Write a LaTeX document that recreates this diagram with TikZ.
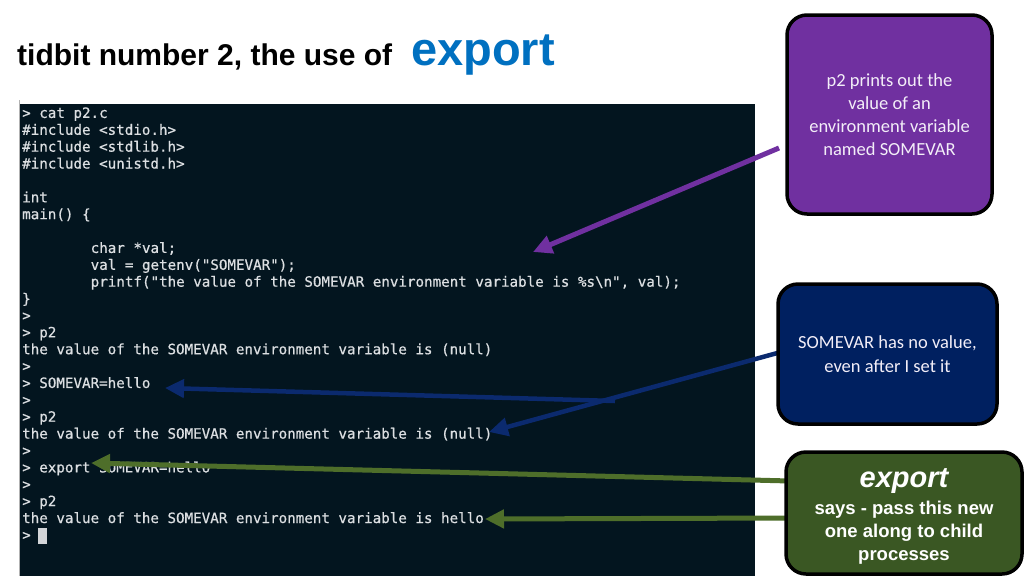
\documentclass[tikz,border=0pt]{standalone}
\usepackage{fontspec}
\setmainfont{Carlito}
\newfontfamily\monof[FakeBold=0.6]{DejaVu Sans Mono}
\newfontfamily\arialf{Liberation Sans}
\usetikzlibrary{arrows.meta}
\definecolor{termbg}{HTML}{03151F}
\definecolor{termtxt}{HTML}{DCDFE2}
\definecolor{ppl}{HTML}{7030A0}
\definecolor{nvy}{HTML}{002060}
\definecolor{nvyarr}{HTML}{0B2A6E}
\definecolor{grnbox}{HTML}{3A5723}
\definecolor{grnarr}{HTML}{4E6E2A}
\definecolor{ttlblue}{HTML}{0070C0}
\definecolor{boxtxt}{HTML}{F3EEF8}
\begin{document}
\begin{tikzpicture}[x=1pt,y=-1pt,
  term/.style={anchor=mid west, inner sep=0pt, text=termtxt, font=\monof\fontsize{14.2}{17}\selectfont},
  callout/.style={draw=black, line width=3.5pt, rounded corners=20pt, inner sep=4pt, align=center, text=boxtxt},
  arr/.style={line width=4.5pt, -{Triangle[length=19pt,width=18pt]}}
]
\useasboundingbox (0,0) rectangle (1024,576);
\fill[white] (0,0) rectangle (1024,576);

% title
\node[anchor=base west, inner sep=0pt, font=\arialf\bfseries\fontsize{30}{34}\selectfont] (title) at (17,65) {tidbit number 2, the use of};
\node[anchor=base west, inner sep=0pt, text=ttlblue, font=\arialf\bfseries\fontsize{47}{50}\selectfont] (titlex) at (411,65) {export};

% terminal
\fill[termbg] (20,104) rectangle (755,576);
\draw[gray!60, line width=1pt] (19.5,100) -- (19.5,576);
\begin{scope}[yshift=-2.5pt]
\node[term] (t0) at (22,113) {> cat p2.c};
\node[term] (t1) at (22,129.88) {\#include <stdio.h>};
\node[term] (t2) at (22,146.76) {\#include <stdlib.h>};
\node[term] (t3) at (22,163.64) {\#include <unistd.h>};
\node[term] (t5) at (22,197.4) {int};
\node[term] (t6) at (22,214.28) {main() \{};
\node[term] (t8) at (90.5,248.04) {char *val;};
\node[term] (t9) at (90.5,264.92) {val = getenv("SOMEVAR");};
\node[term] (t10) at (90.5,281.8) {printf("the value of the SOMEVAR environment variable is \%s\textbackslash n", val);};
\node[term] (t11) at (22,298.68) {\}};
\node[term] (t12) at (22,315.56) {>};
\node[term] (t13) at (22,332.44) {> p2};
\node[term] (t14) at (22,349.32) {the value of the SOMEVAR environment variable is (null)};
\node[term] (t15) at (22,366.2) {>};
\node[term] (t16) at (22,383.08) {> SOMEVAR=hello};
\node[term] (t17) at (22,399.96) {>};
\node[term] (t18) at (22,416.84) {> p2};
\node[term] (t19) at (22,433.72) {the value of the SOMEVAR environment variable is (null)};
\node[term] (t20) at (22,450.6) {>};
\node[term] (t21) at (22,467.48) {> export SOMEVAR=hello};
\node[term] (t22) at (22,484.36) {>};
\node[term] (t23) at (22,501.24) {> p2};
\node[term] (t24) at (22,518.12) {the value of the SOMEVAR environment variable is hello};
\node[term] (t25) at (22,535) {>};
\end{scope}
\fill[termtxt!90!gray] (38,528) rectangle (46.5,544);

% arrow end points
\coordinate (pS) at (779,148);
\coordinate (pE) at (533,252);
\coordinate (nS) at (781,352);
\coordinate (nE) at (489,432);
\coordinate (nJ) at (615,401);
\coordinate (nE2) at (165,388);
\coordinate (gS1) at (790,481);
\coordinate (gE1) at (91,463);
\coordinate (gS2) at (790,518);
\coordinate (gE2) at (485,519);

% arrows
\draw[arr, ppl, line width=5pt] (pS) -- (pE);
\draw[arr, nvyarr, line width=4.5pt] (nS) -- (nE);
\draw[arr, nvyarr, line width=4.5pt] (nJ) -- (nE2);
\draw[arr, grnarr, line width=5pt] (gS1) -- (gE1);
\draw[arr, grnarr, line width=5pt] (gS2) -- (gE2);

% callout boxes
\node[callout, fill=ppl, minimum width=205pt, minimum height=199pt, font=\fontsize{18.5}{23}\selectfont] (pbox) at (889.5,114.5)
  {p2 prints out the\\value of an\\environment variable\\named SOMEVAR};
\node[callout, fill=nvy, minimum width=219pt, minimum height=140pt, font=\fontsize{18.5}{24}\selectfont] (nbox) at (887.5,354)
  {SOMEVAR has no value,\\even after I set it};
\node[callout, fill=grnbox, minimum width=236pt, minimum height=122pt] (gbox) at (904,513) {};
\node[inner sep=0pt, text=white, font=\arialf\bfseries\itshape\fontsize{29}{32}\selectfont] (gttl) at (904,481) {export};
\node[inner sep=0pt, align=center, text=white, font=\arialf\bfseries\fontsize{18.5}{23}\selectfont] (gtxt) at (904,533)
  {says - pass this new\\one along to child\\processes};
\end{tikzpicture}
\end{document}
